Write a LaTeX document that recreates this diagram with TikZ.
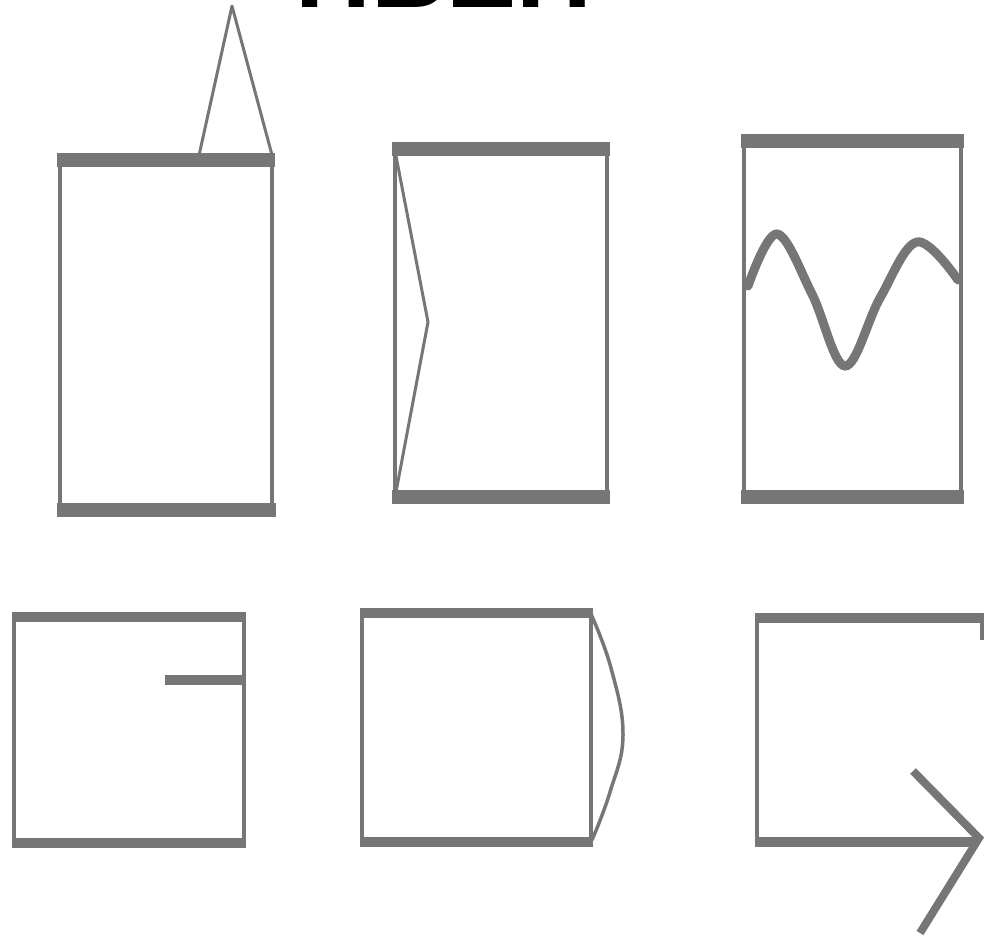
\documentclass[tikz,border=0pt]{standalone}
\usepackage{fontspec}
\newfontfamily\headfont{Liberation Sans}
\definecolor{ink}{RGB}{118,118,118}

\begin{document}
\begin{tikzpicture}[x=1pt, y=-1pt,
rim/.style={draw=ink, line width=4pt},
bar/.style={draw=ink, line width=14pt},
thinbar/.style={draw=ink, line width=10pt},
stroke/.style={draw=ink, line width=3pt, line join=round},
wave/.style={draw=ink, line width=9pt, line cap=round}]
\useasboundingbox (0,0) rectangle (984,938);
%
\node[anchor=base, font={\headfont\fontsize{105}{105}\selectfont\bfseries}, text=black, inner sep=0pt] (title) at (444,7) {HBEH};
%
% top row
\draw[rim] (60,160) -- (60,512);
\draw[rim] (272,160) -- (272,512);
\draw[bar] (57,159.5) -- (275,159.5);
\draw[bar] (57,510) -- (276,510);
\draw[stroke] (198,160) -- (232,6) -- (272,155);
%
\draw[rim] (395,150) -- (395,497);
\draw[rim] (607,150) -- (607,497);
\draw[bar] (392,149) -- (610,149);
\draw[bar] (392,497) -- (610,497);
\draw[stroke] (396,156) -- (428,322) -- (396,492);
%
\draw[rim] (744,140) -- (744,497);
\draw[rim] (961,140) -- (961,497);
\draw[bar] (741,140.5) -- (964,140.5);
\draw[bar] (741,497) -- (964,497);
\draw[wave] plot[smooth, tension=0.6] coordinates {(748,286) (777,234) (812,294) (845,366) (880,298) (917,242) (958,280)};
%
% bottom row
\draw[rim] (14,617) -- (14,843);
\draw[rim] (244,617) -- (244,843);
\draw[thinbar] (12,617) -- (246,617);
\draw[thinbar] (12,842.5) -- (246,842.5);
\draw[thinbar] (165,680) -- (244,680);
%
\draw[rim] (362,612) -- (362,842);
\draw[rim] (591,612) -- (591,842);
\draw[thinbar] (360,612.5) -- (593,612.5);
\draw[thinbar] (360,842) -- (593,842);
\draw[stroke, line width=3.5pt] plot[smooth, tension=0.7] coordinates {(591,614) (611,668) (623,735) (610,792) (592,840)};
%
\draw[rim] (757,618) -- (757,842);
\draw[rim] (982,613) -- (982,640);
\draw[thinbar] (755,618) -- (984,618);
\draw[thinbar] (755,842) -- (978,842);
\draw[draw=ink, line width=8pt, line join=miter] (913,771) -- (979,838) -- (920,933);
\end{tikzpicture}
\end{document}
